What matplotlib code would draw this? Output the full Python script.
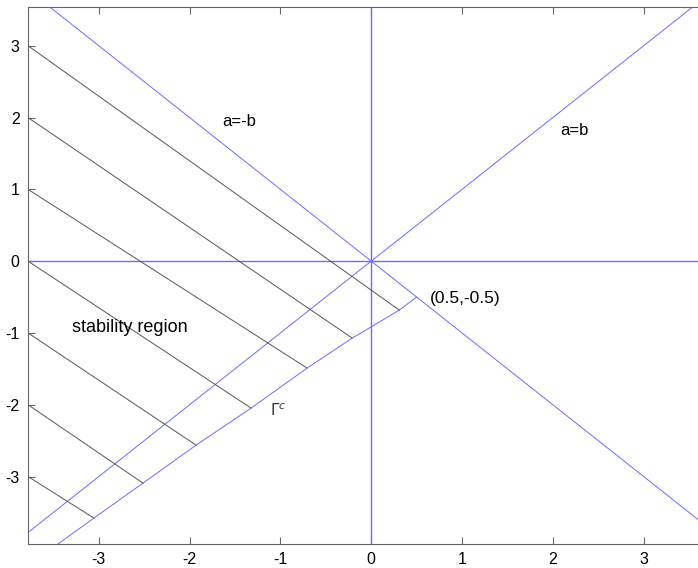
import numpy as np
import matplotlib
matplotlib.use("Agg")
import matplotlib.pyplot as plt

plt.rcParams['font.family'] = ['Liberation Sans', 'DejaVu Sans']
plt.rcParams['axes.unicode_minus'] = False

## axis ranges
x_lim = (-3.78, 3.61)
y_lim = (-3.94, 3.54)
ticks = [-3, -2, -1, 0, 1, 2, 3]

## lower boundary of the stability region (drawn by hand, slightly kinked)
bound_x = [-3.45, -3.054, -2.514, -1.929, -1.323, -0.706, -0.209, 0.309, 0.5]
bound_y = [-3.94, -3.579, -3.092, -2.563, -2.047, -1.490, -1.072, -0.682, -0.5]

## hatch lines: start at left edge at these b values, end on the boundary
hatch_start = [3, 2, 1, 0, -1, -2, -3]
hatch_end_x = [0.309, -0.209, -0.706, -1.323, -1.929, -2.514, -3.054]
hatch_end_y = [-0.682, -1.072, -1.490, -2.047, -2.563, -3.092, -3.579]

blue = '#6b6bff'

fig = plt.figure(figsize=(6.98, 5.68), dpi=100)
ax = fig.add_axes([28/698, 24/568, 671/698, 537/568])

# a=b and a=-b
xs = np.array(x_lim)
ax.plot(xs, xs, color=blue, lw=0.7)
ax.plot(xs, -xs, color=blue, lw=0.7)
# coordinate axes
ax.axhline(0, color=blue, lw=1.0)
ax.axvline(0, color=blue, lw=1.0)

ax.plot(bound_x, bound_y, color=blue, lw=0.7)

for b0, ex, ey in zip(hatch_start, hatch_end_x, hatch_end_y):
    ax.plot([x_lim[0], ex], [b0, ey], color='#555555', lw=0.7)

ax.text(-1.64, 1.94, "a=-b", fontsize=12, va='center')
ax.text(2.08, 1.82, "a=b", fontsize=12, va='center')
ax.text(0.65, -0.52, "(0.5,-0.5)", fontsize=12.5, va='center')
ax.text(-3.29, -0.93, "stability region", fontsize=13, va='center')
ax.text(-1.11, -2.08, r"$\Gamma^c$", fontsize=11, va='center', color='#333333')

ax.set_xlim(x_lim)
ax.set_ylim(y_lim)
ax.set_xticks(ticks)
ax.set_yticks(ticks)
ax.tick_params(direction='in', length=5, width=0.8, color='#666666',
               top=True, right=False, labelsize=11.5)
ax.tick_params(axis='x', pad=6)
ax.tick_params(axis='y', pad=6)
for side in ['left', 'bottom', 'top']:
    ax.spines[side].set_color('#666666')
ax.spines['right'].set_visible(False)

fig.savefig("out.png", dpi=100)
